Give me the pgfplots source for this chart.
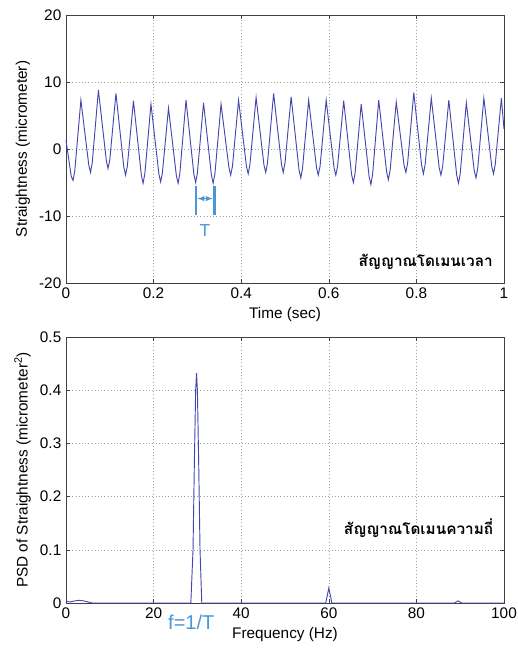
\documentclass[border=0pt]{standalone}
\usepackage{fontspec}
\setmainfont{Liberation Sans}
\newfontfamily\thaifont[Script=Thai]{Loma}
\usepackage{pgfplots}
\pgfplotsset{compat=1.18}
\definecolor{sig}{RGB}{70,70,175}
\definecolor{ann}{RGB}{75,150,215}
\pgfplotsset{mat/.style={
  scale only axis, width=328.5pt,
  grid=major, grid style={dotted, gray!75},
  tick align=inside, major tick length=3pt,
  axis line style={black!75}, tick style={black!75},
  ticklabel style={font=\fontsize{11.5}{13}\selectfont},
  label style={font=\fontsize{11.5}{13}\selectfont},
  /pgf/number format/assume math mode=true,
  clip=false}}
\begin{document}
\begin{tikzpicture}
\path[use as bounding box] (-49.5pt,-273.75pt) rectangle (338.25pt,212.25pt);
% time domain
\begin{axis}[mat, at={(0pt,0pt)}, anchor=south west, height=201pt,
  xmin=0, xmax=1, ymin=-20, ymax=20,
  xtick={0,0.2,0.4,0.6,0.8,1}, ytick={-20,-10,0,10,20},
  xlabel={Time (sec)}, ylabel={Straightness (micrometer)}]
\addplot[sig, line width=0.7pt] coordinates {
 (0,1.3)
 (0.012,-4.1) (0.016,-4.7) (0.020,-3.3) (0.034,7.3)
 (0.052,-2.4) (0.056,-3.5) (0.060,-2.0) (0.074,8.8)
 (0.092,-1.7) (0.096,-2.9) (0.100,-1.6) (0.114,8.3)
 (0.132,-2.7) (0.136,-3.9) (0.140,-2.6) (0.154,7.2)
 (0.172,-3.9) (0.176,-5.1) (0.180,-3.7) (0.194,6.7)
 (0.212,-3.7) (0.216,-4.9) (0.220,-3.6) (0.234,6.1)
 (0.252,-4.0) (0.256,-5.1) (0.260,-3.6) (0.274,7.3)
 (0.292,-3.8) (0.296,-5.0) (0.300,-3.6) (0.314,6.9)
 (0.332,-3.9) (0.336,-5.1) (0.340,-3.7) (0.354,6.7)
 (0.372,-2.8) (0.376,-3.9) (0.380,-2.6) (0.394,7.3)
 (0.412,-2.6) (0.416,-3.7) (0.420,-2.3) (0.434,7.7)
 (0.452,-2.4) (0.456,-3.5) (0.460,-2.1) (0.474,8.3)
 (0.492,-2.3) (0.496,-3.5) (0.500,-2.1) (0.514,7.8)
 (0.532,-3.1) (0.536,-4.3) (0.540,-2.9) (0.554,7.3)
 (0.572,-2.8) (0.576,-3.9) (0.580,-2.6) (0.594,7.3)
 (0.612,-2.8) (0.616,-3.9) (0.620,-2.6) (0.634,7.2)
 (0.652,-3.8) (0.656,-5.0) (0.660,-3.6) (0.674,6.7)
 (0.692,-4.1) (0.696,-5.3) (0.700,-3.8) (0.714,7.3)
 (0.732,-3.4) (0.736,-4.6) (0.740,-3.2) (0.754,7.0)
 (0.772,-2.5) (0.776,-3.5) (0.780,-2.1) (0.794,8.4)
 (0.812,-2.5) (0.816,-3.7) (0.820,-2.3) (0.834,7.6)
 (0.852,-2.8) (0.856,-3.9) (0.860,-2.6) (0.874,7.3)
 (0.892,-3.9) (0.896,-5.1) (0.900,-3.7) (0.914,6.9)
 (0.932,-3.2) (0.936,-4.3) (0.940,-2.9) (0.954,7.6)
 (0.972,-2.6) (0.976,-3.7) (0.980,-2.3) (0.994,7.6)
 (1.0,3.0)
};
\draw[ann, line width=1.6pt] (axis cs:0.296,-5.5) -- (axis cs:0.296,-9.8);
\draw[ann, line width=1.6pt] (axis cs:0.339,-5.5) -- (axis cs:0.339,-9.8);
\draw[ann, line width=0.8pt, <->, >=latex] (axis cs:0.300,-7.4) -- (axis cs:0.335,-7.4);
\node[ann, font=\fontsize{13}{15}\selectfont] at (axis cs:0.317,-12.1) {T};
\node[anchor=east, font=\thaifont\bfseries\fontsize{11.5}{14}\selectfont] at (axis cs:0.985,-16.9) {สัญญาณโดเมนเวลา};
\end{axis}
% frequency domain
\begin{axis}[mat, at={(0pt,-240pt)}, anchor=south west, height=199.5pt,
  xmin=0, xmax=100, ymin=0, ymax=0.5,
  xtick={0,20,40,60,80,100}, ytick={0,0.1,0.2,0.3,0.4,0.5},
  yticklabel style={/pgf/number format/fixed, /pgf/number format/precision=1},
  xlabel={Frequency (Hz)}, ylabel={PSD of Straightness (micrometer\textsuperscript{2})}]
\addplot[sig, line width=0.7pt] coordinates {
 (0,0.003) (1,0.002) (2,0.004) (3,0.005) (4,0.004) (5,0.002) (6,0)
 (28.5,0) (29.0,0.10) (29.3,0.26) (29.6,0.40) (29.8,0.432) (30.0,0.40)
 (30.3,0.26) (30.6,0.10) (31.0,0)
 (59.3,0) (60,0.028) (60.7,0)
 (88.7,0) (89.5,0.004) (90.3,0) (100,0)
};
\node[ann, anchor=north, font=\fontsize{15}{17}\selectfont, inner sep=0pt] at (axis cs:28.6,-0.022) {f=1/T};
\node[anchor=east, font=\thaifont\bfseries\fontsize{11.5}{14}\selectfont] at (axis cs:98.6,0.141) {สัญญาณโดเมนความถี่};
\end{axis}
\end{tikzpicture}
\end{document}
